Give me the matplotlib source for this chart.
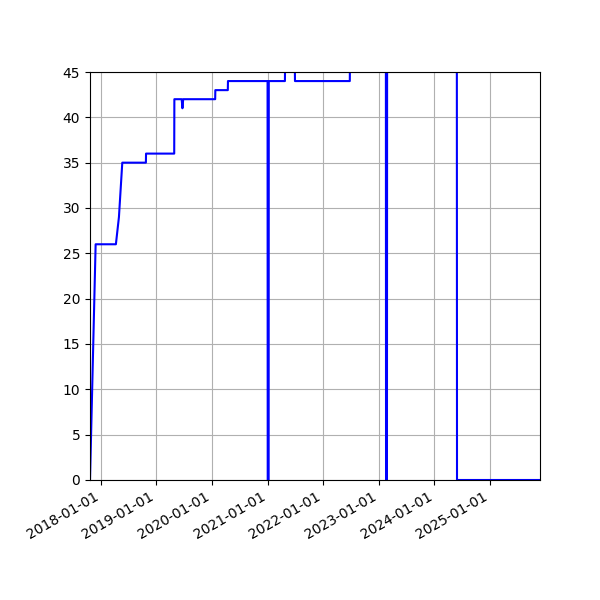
import matplotlib
matplotlib.use('Agg')
import matplotlib.pyplot as plt
import matplotlib.dates as mdates
import pandas as pd

# daily counts (only the change points are kept)
dates = ['2017-10-23', '2017-11-29', '2018-04-11', '2018-05-01', '2018-05-23',
         '2018-10-25', '2018-10-26', '2019-04-29', '2019-04-30', '2019-06-17',
         '2019-06-22', '2019-06-27', '2020-01-23', '2020-01-24', '2020-04-15',
         '2020-04-16', '2021-01-01', '2021-01-02', '2021-01-08', '2021-01-09',
         '2021-04-25', '2021-04-26', '2021-06-29', '2021-06-30', '2022-06-25',
         '2022-06-26', '2023-02-17', '2023-02-18', '2023-02-24', '2023-02-25',
         '2024-05-28', '2024-05-29', '2025-11-25']
counts = [0, 26, 26, 29, 35,
          35, 36, 36, 42, 42,
          41, 42, 42, 43, 43,
          44, 44, 0, 0, 44,
          44, 46, 46, 44, 44,
          46, 46, 0, 0, 46,
          46, 0, 0]

x = pd.to_datetime(dates)

fig, ax = plt.subplots(figsize=(6, 6), dpi=100)
ax.plot(x, counts, color='b')

ax.set_ylim(0, 45)
ax.set_xlim(x[0], x[-1])
ax.xaxis.set_major_locator(mdates.YearLocator())
ax.xaxis.set_major_formatter(mdates.DateFormatter('%Y-%m-%d'))
ax.grid()

fig.autofmt_xdate()
fig.subplots_adjust(left=0.15)
fig.savefig('out.png')
